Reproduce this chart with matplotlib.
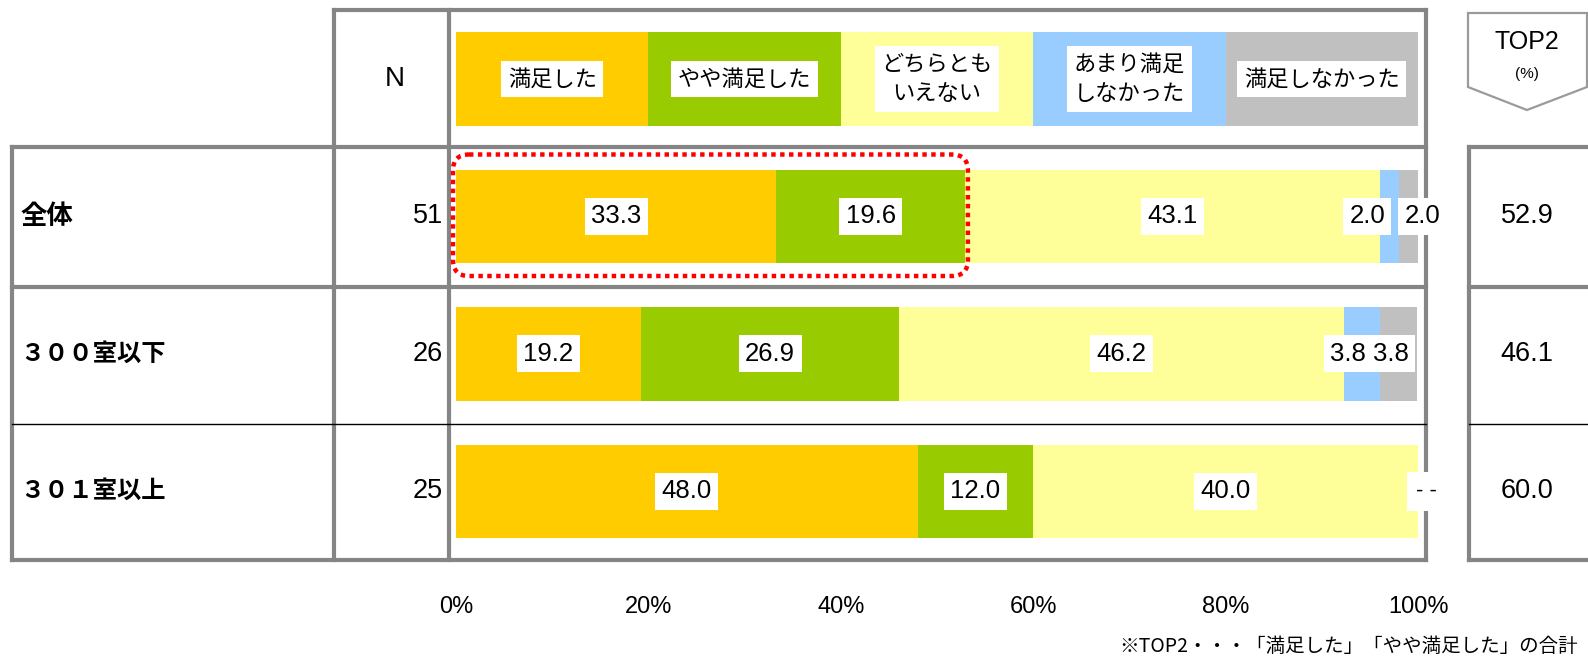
import numpy as np
import matplotlib.pyplot as plt
from matplotlib.patches import FancyBboxPatch, Polygon

JP = ['Noto Sans CJK JP', 'DejaVu Sans']
NUM = ['Liberation Sans', 'DejaVu Sans']
plt.rcParams['font.family'] = JP

# data
categories = ['満足した', 'やや満足した', 'どちらとも\nいえない', 'あまり満足\nしなかった', '満足しなかった']
colors = ['#FFCC00', '#99CC00', '#FFFF99', '#99CCFF', '#C0C0C0']
groups = ['全体', '３００室以下', '３０１室以上']
n_values = [51, 26, 25]
satisfied = [33.3, 19.2, 48.0]
somewhat = [19.6, 26.9, 12.0]
neutral = [43.1, 46.2, 40.0]
not_much = [2.0, 3.8, 0.0]
not_at_all = [2.0, 3.8, 0.0]
top2 = [52.9, 46.1, 60.0]
ticks = [0, 20, 40, 60, 80, 100]
note = '※TOP2・・・「満足した」「やや満足した」の合計'

series = [satisfied, somewhat, neutral, not_much, not_at_all]
# manual nudges (px) for labels of the small segments
nudge = {(0, 3): -22, (0, 4): 14, (1, 3): -14, (1, 4): -8}

W, H = 1588, 663
fig = plt.figure(figsize=(W / 100, H / 100), dpi=100)

# background axes in pixel units for the table frame
bg = fig.add_axes([0, 0, 1, 1])
bg.set_xlim(0, W)
bg.set_ylim(H, 0)
bg.axis('off')

GRAY = '#858585'
LW = 3.0
x_lab, x_n, x_ch, x_chr = 12, 334, 449, 1426
x_t2 = 1469
y_top, y_head, y_r1, y_r2, y_bot = 10, 147, 287, 424, 560

# vertical lines
bg.plot([x_lab, x_lab], [y_head, y_bot], color=GRAY, lw=LW)
for x in (x_n, x_ch, x_chr):
    bg.plot([x, x], [y_top, y_bot], color=GRAY, lw=LW)
bg.plot([x_t2, x_t2], [y_head, y_bot], color=GRAY, lw=LW)
# horizontal lines
bg.plot([x_n, x_chr], [y_top, y_top], color=GRAY, lw=LW)
for y in (y_head, y_r1, y_bot):
    bg.plot([x_lab, x_chr], [y, y], color=GRAY, lw=LW)
    bg.plot([x_t2, W + 2], [y, y], color=GRAY, lw=LW)
bg.plot([x_lab, x_chr], [y_r2, y_r2], color='black', lw=1)
bg.plot([x_t2, W + 2], [y_r2, y_r2], color='black', lw=1)

# TOP2 header pentagon
pent = Polygon([[1468, 13], [1587, 13], [1587, 87], [1527, 110], [1468, 87]],
               closed=True, fc='white', ec='#9A9A9A', lw=1.6)
bg.add_patch(pent)
bg.text(1527, 42, 'TOP2', ha='center', va='center', fontsize=18, family=NUM)
bg.text(1527, 74, '(%)', ha='center', va='center', fontsize=11, family=NUM)

bg.text(395, 79, 'N', ha='center', va='center', fontsize=20, family=NUM)

# bar axes
ax = fig.add_axes([456 / W, (H - y_bot) / H, 962 / W, (y_bot - y_top) / H])
ax.set_xlim(0, 100)
ax.set_ylim(3.5, -0.5)
ax.patch.set_visible(False)
for s in ax.spines.values():
    s.set_visible(False)
ax.set_yticks([])
ax.set_xticks(ticks)
ax.set_xticklabels([f'{t}%' for t in ticks], fontsize=17, family=NUM)
ax.tick_params(axis='x', length=0, pad=26)

BH = 0.68
# legend header row
for i, (cat, c) in enumerate(zip(categories, colors)):
    ax.barh(0, 20, left=20 * i, height=BH, color=c, edgecolor='none')
    ax.text(20 * i + 10, 0, cat, ha='center', va='center', fontsize=16,
            linespacing=1.35,
            bbox=dict(boxstyle='square,pad=0.3', fc='white', ec='none'))

rows = np.arange(1, len(groups) + 1)
left = np.zeros(len(groups))
box = dict(boxstyle='square,pad=0.25', fc='white', ec='none')
for j, (vals, c) in enumerate(zip(series, colors)):
    vals = np.array(vals)
    ax.barh(rows, vals, left=left, height=BH, color=c, edgecolor='none')
    for i, v in enumerate(vals):
        if v > 0:
            ax.annotate(f'{v:.1f}', (left[i] + v / 2, rows[i]),
                        xytext=(nudge.get((i, j), 0) * 0.72, 0),
                        textcoords='offset points', ha='center', va='center',
                        fontsize=18.5, family=NUM, bbox=box, zorder=5)
    left += vals

# rows with no answers in the last two categories
for i in range(len(groups)):
    if not_much[i] == 0 and not_at_all[i] == 0:
        ax.annotate('- -', (100, rows[i]), xytext=(6, 0), textcoords='offset points',
                    ha='center', va='center', fontsize=16, family=NUM,
                    bbox=dict(boxstyle='square,pad=0.4', fc='white', ec='none'),
                    zorder=5)

# row labels, N and TOP2 values
for i, g in enumerate(groups):
    y = (rows[i] - (-0.5)) / 4 * (y_bot - y_top) + y_top
    bg.text(20, y, g, ha='left', va='center', fontsize=19 if i == 0 else 17.5,
            fontweight='bold')
    bg.text(443, y, str(n_values[i]), ha='right', va='center', fontsize=19.5, family=NUM)
    bg.text(1527, y, f'{top2[i]:.1f}', ha='center', va='center', fontsize=19.5, family=NUM)

# dotted highlight around TOP2 of the first row (drawn on the bar axes, pixel coords)
inv = bg.transData.inverted()
(x0, y0) = inv.transform(ax.transData.transform((0, rows[0] - BH / 2)))
(x1, y1) = inv.transform(ax.transData.transform((top2[0], rows[0] + BH / 2)))
hl = FancyBboxPatch((x0 - 3, y0 - 15), (x1 - x0) + 6, (y1 - y0) + 28,
                    boxstyle='round,pad=0,rounding_size=16', fc='none',
                    ec='#FF0000', lw=3.2, ls=(0, (1, 1)), zorder=6,
                    transform=bg.transData, clip_on=False)
ax.add_patch(hl)

fig.text(1578 / W, 1 - 646 / H, note, ha='right', va='center', fontsize=14)

fig.savefig('out.png', dpi=100, facecolor='white')
